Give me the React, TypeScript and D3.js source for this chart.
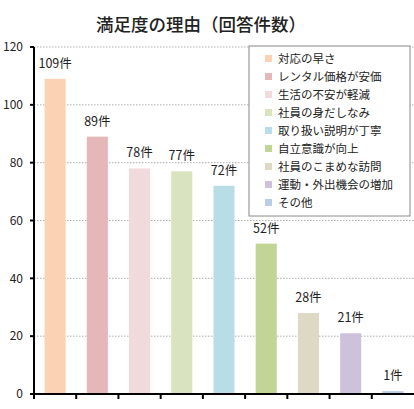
import { useEffect, useRef } from 'react'
import * as d3 from 'd3'

const categories = [
  '対応の早さ',
  'レンタル価格が安価',
  '生活の不安が軽減',
  '社員の身だしなみ',
  '取り扱い説明が丁寧',
  '自立意識が向上',
  '社員のこまめな訪問',
  '運動・外出機会の増加',
  'その他'
]
const counts = [109, 89, 78, 77, 72, 52, 28, 21, 1]
const barColors = [
  '#fbd3b4', '#e6b7b8', '#f1dadb', '#d9e4bf', '#b9dde7',
  '#c3d596', '#ddd9c4', '#cdc1db', '#b9cde5'
]
const yTicks = [0, 20, 40, 60, 80, 100, 120]

const width = 414
const height = 409
const font = '"Noto Sans CJK JP", "Noto Sans", sans-serif'

export default function App() {
  const svgRef = useRef<SVGSVGElement>(null)

  useEffect(() => {
    if (!svgRef.current) return
    d3.select(svgRef.current).selectAll('*').remove()

    const svg = d3.select(svgRef.current)
      .attr('width', width)
      .attr('height', height)

    const x = d3.scaleBand<string>()
      .domain(categories)
      .range([34, 414])
      .paddingInner(0.5)
      .paddingOuter(0.25)

    const y = d3.scaleLinear()
      .domain([0, 120])
      .range([394, 47])

    const step = x.step()

    // Title
    svg.append('text')
      .attr('x', 201)
      .attr('y', 31)
      .attr('text-anchor', 'middle')
      .style('font-family', font)
      .style('font-size', '17.5px')
      .style('font-weight', '500')
      .style('fill', '#222')
      .text('満足度の理由（回答件数）')

    // Gridlines
    svg.selectAll('line.grid')
      .data(yTicks.filter(t => t > 0))
      .enter()
      .append('line')
      .attr('class', 'grid')
      .attr('x1', 34)
      .attr('x2', 414)
      .attr('y1', d => y(d))
      .attr('y2', d => y(d))
      .attr('stroke', '#999')
      .attr('stroke-width', 0.8)
      .attr('stroke-dasharray', '1.5,1.5')

    // Bars
    svg.selectAll('rect.bar')
      .data(counts)
      .enter()
      .append('rect')
      .attr('class', 'bar')
      .attr('x', (_d, i) => x(categories[i])!)
      .attr('y', d => y(d))
      .attr('width', x.bandwidth())
      .attr('height', d => y(0) - y(d))
      .attr('fill', (_d, i) => barColors[i])

    // Value labels
    svg.selectAll('text.value')
      .data(counts)
      .enter()
      .append('text')
      .attr('class', 'value')
      .attr('x', (_d, i) => x(categories[i])! + x.bandwidth() / 2)
      .attr('y', d => y(d) - 11)
      .attr('text-anchor', 'middle')
      .style('font-family', font)
      .style('font-size', '12.5px')
      .style('fill', '#222')
      .text(d => `${d}件`)

    // Y axis
    svg.append('line')
      .attr('x1', 34).attr('x2', 34)
      .attr('y1', y(120)).attr('y2', y(0))
      .attr('stroke', '#000')
      .attr('stroke-width', 2)

    svg.selectAll('line.ytick')
      .data(yTicks)
      .enter()
      .append('line')
      .attr('x1', 30).attr('x2', 34)
      .attr('y1', d => y(d)).attr('y2', d => y(d))
      .attr('stroke', '#000')
      .attr('stroke-width', 2)

    svg.selectAll('text.ylabel')
      .data(yTicks)
      .enter()
      .append('text')
      .attr('x', 23)
      .attr('y', d => y(d))
      .attr('dy', '0.35em')
      .attr('text-anchor', 'end')
      .style('font-family', font)
      .style('font-size', '12px')
      .style('fill', '#222')
      .text(d => d)

    // X axis
    svg.append('line')
      .attr('x1', 33).attr('x2', 414)
      .attr('y1', y(0)).attr('y2', y(0))
      .attr('stroke', '#000')
      .attr('stroke-width', 2)

    svg.selectAll('line.xtick')
      .data(categories)
      .enter()
      .append('line')
      .attr('x1', d => x(d)! - step * 0.25)
      .attr('x2', d => x(d)! - step * 0.25)
      .attr('y1', y(0)).attr('y2', y(0) + 5)
      .attr('stroke', '#000')
      .attr('stroke-width', 2)

    // Legend
    const legend = svg.append('g').attr('transform', 'translate(249,46)')
    legend.append('rect')
      .attr('width', 161)
      .attr('height', 170)
      .attr('fill', '#fff')
      .attr('stroke', '#888')
      .attr('stroke-width', 1)

    const items = legend.selectAll('g.item')
      .data(categories)
      .enter()
      .append('g')
      .attr('transform', (_d, i) => `translate(0,${12.5 + i * 18})`)

    items.append('rect')
      .attr('x', 16)
      .attr('y', -3.5)
      .attr('width', 7)
      .attr('height', 7)
      .attr('fill', (_d, i) => barColors[i])

    items.append('text')
      .attr('x', 29)
      .attr('y', 0)
      .attr('dy', '0.35em')
      .style('font-family', font)
      .style('font-size', '11.5px')
      .style('fill', '#222')
      .text(d => d)
  }, [])

  return (
    <svg ref={svgRef} style={{ position: 'absolute', left: 0, top: 0, background: '#fff' }} />
  )
}
